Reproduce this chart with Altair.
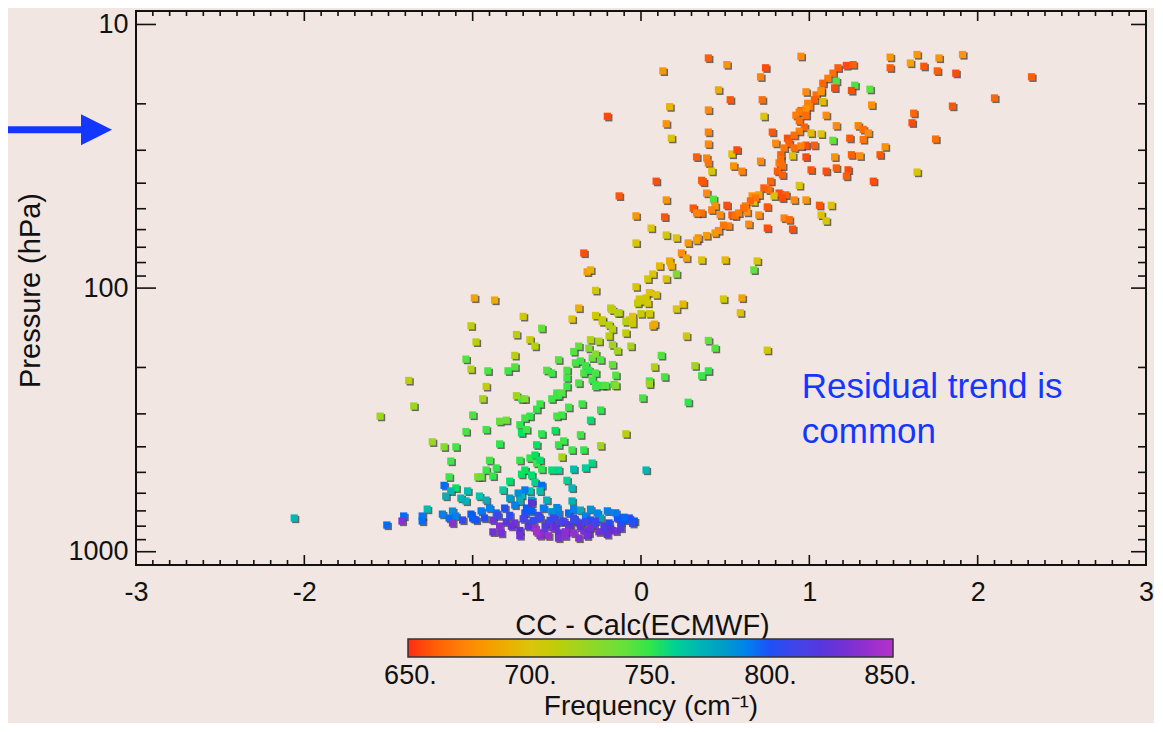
import altair as alt
import pandas as pd

# ---- data: (residual CC - Calc, pressure hPa, frequency cm-1)
TOP = [
    (0.40, 13.4, 660), (0.51, 14.2, 680), (0.74, 14.6, 655), (0.95, 13.2, 675), (0.13, 15.0, 680),
    (0.71, 15.8, 672), (0.46, 17.7, 688), (0.53, 19.3, 658), (0.72, 19.3, 665), (0.17, 20.5, 692),
    (0.40, 21.1, 675), (-0.20, 22.3, 655), (0.73, 22.3, 700), (0.15, 23.8, 678), (0.40, 25.6, 672),
    (0.18, 27.0, 698), (0.40, 28.4, 675), (0.78, 25.6, 658), (0.87, 27.0, 656), (0.80, 28.2, 675),
    (1.17, 14.6, 660), (1.22, 14.3, 655), (1.26, 14.2, 660), (1.14, 15.3, 665), (1.11, 16.0, 670),
    (1.16, 16.4, 745), (1.08, 16.7, 662), (1.15, 17.4, 655), (1.07, 17.8, 672), (1.04, 18.5, 665),
    (1.03, 19.3, 660), (1.00, 20.5, 668), (0.95, 21.2, 662), (0.92, 22.1, 670), (0.94, 23.2, 665),
    (0.97, 24.5, 660), (0.94, 25.4, 672), (0.91, 26.3, 665), (0.88, 28.2, 660), (0.85, 29.4, 668),
    (0.83, 31.2, 662), (0.82, 33.5, 670), (0.83, 32.5, 665), (0.81, 36.0, 660),
    (1.27, 17.0, 745), (1.36, 17.6, 742), (1.25, 17.8, 655), (0.98, 18.0, 675), (1.07, 18.0, 678),
    (1.08, 19.6, 695), (0.99, 19.9, 672), (0.98, 20.9, 678), (0.94, 21.5, 670), (0.98, 22.1, 665),
    (1.10, 22.1, 676), (1.37, 20.2, 678), (1.16, 24.2, 675), (1.01, 25.8, 695), (1.07, 26.0, 700),
    (1.29, 24.2, 672), (1.32, 25.0, 665), (1.35, 25.8, 675), (1.32, 27.3, 668), (1.14, 27.5, 740),
    (1.24, 27.0, 658), (0.98, 28.7, 656), (1.03, 28.7, 660), (0.91, 29.4, 665), (0.95, 28.9, 672),
    (1.45, 29.1, 678),
    (1.48, 13.3, 678), (1.64, 13.0, 680), (1.60, 14.0, 685), (1.68, 14.4, 658), (1.77, 13.4, 678),
    (1.76, 15.0, 660), (1.87, 15.3, 655), (1.91, 13.0, 680), (1.48, 14.6, 660), (2.32, 15.8, 660),
    (2.10, 19.0, 662), (1.62, 21.7, 662), (1.61, 23.6, 655), (1.85, 20.4, 658), (1.75, 27.2, 665),
]

UPPER = [
    (1.42, 31.2, 658), (1.25, 31.2, 660), (1.30, 31.5, 676), (1.15, 31.8, 678), (0.98, 31.8, 655),
    (0.90, 31.5, 698), (1.64, 36.3, 702), (1.38, 39.3, 656), (0.33, 31.8, 660), (0.39, 32.1, 672),
    (0.40, 33.5, 668), (0.54, 31.0, 698), (0.57, 29.9, 655), (0.71, 33.0, 675), (0.55, 34.4, 678),
    (0.60, 36.0, 672), (0.42, 36.0, 700), (0.09, 39.3, 656), (0.36, 39.0, 660), (0.37, 39.6, 658),
    (-0.13, 44.7, 658), (0.39, 43.6, 675), (0.15, 46.3, 678), (0.43, 46.0, 745), (0.31, 49.7, 658),
    (0.36, 51.9, 665), (0.33, 51.9, 672), (0.44, 48.8, 678), (0.42, 50.5, 672), (0.51, 48.5, 656),
    (0.47, 52.7, 676), (-0.03, 53.2, 680), (0.14, 53.7, 658), (0.06, 59.2, 700), (0.15, 62.9, 705),
    (0.21, 64.5, 700), (-0.03, 67.4, 702), (1.01, 35.6, 658), (1.10, 36.0, 656), (1.16, 35.0, 660),
    (1.23, 35.6, 655), (1.22, 37.6, 660), (0.94, 40.8, 700), (0.82, 43.6, 656), (0.86, 44.3, 660),
    (0.84, 45.5, 655), (0.91, 46.3, 675), (0.98, 46.3, 680), (1.06, 48.5, 658), (1.13, 48.5, 700),
    (1.07, 52.8, 698), (1.10, 55.6, 702), (0.70, 52.8, 676), (0.75, 49.2, 658), (0.64, 57.2, 675),
    (0.75, 59.2, 656), (0.85, 54.2, 672), (0.88, 55.0, 665), (0.90, 59.7, 656), (0.54, 52.8, 658),
    (0.56, 53.2, 665), (0.58, 51.9, 670), (0.63, 51.5, 676), (0.67, 47.1, 700), (0.66, 44.7, 678),
    (0.70, 44.3, 682), (0.79, 44.7, 698), (0.77, 39.3, 662), (0.76, 42.4, 665), (0.73, 41.7, 660),
    (0.68, 45.5, 668), (0.65, 46.7, 662), (0.62, 48.8, 670), (0.61, 49.7, 665), (0.52, 58.1, 672),
    (0.49, 57.7, 668), (0.46, 60.5, 675), (0.44, 61.8, 680), (0.39, 63.2, 682), (0.34, 64.5, 676),
    (0.33, 65.8, 685), (0.84, 37.2, 660), (0.84, 34.4, 665),
]

MID = [
    (-0.34, 73.6, 656), (-0.32, 86.8, 682), (-0.30, 85.3, 690), (0.36, 78.2, 700), (0.50, 78.2, 695),
    (0.69, 78.9, 702), (0.67, 85.3, 740), (0.15, 92.3, 700), (0.21, 88.4, 730), (0.28, 67.4, 682),
    (0.24, 73.6, 676), (0.27, 76.9, 685), (0.17, 78.9, 690), (0.11, 82.4, 695), (0.18, 82.4, 688),
    (0.07, 88.4, 700), (0.04, 92.3, 705), (0.05, 104, 700), (0.03, 109, 705), (0.00, 112, 708),
    (0.04, 114, 703), (-0.02, 114, 710), (-0.01, 110, 705), (0.09, 106, 700), (-0.03, 98.8, 702),
    (-0.27, 102, 705), (0.49, 110, 705), (0.60, 109, 685), (0.59, 124, 698), (0.21, 120, 700),
    (0.25, 115, 695), (0.05, 125, 705), (0.00, 125, 708), (0.07, 139, 685), (0.27, 152, 705),
    (0.40, 158, 740), (0.44, 169, 744), (0.75, 172, 705), (0.12, 180, 744), (0.08, 199, 715),
    (0.14, 217, 746), (0.32, 197, 720), (0.36, 215, 748), (0.40, 206, 750), (0.05, 225, 746),
    (-0.99, 109, 685), (-0.87, 111, 688), (-0.37, 119, 690), (-0.41, 131, 700), (-0.70, 128, 705),
    (-1.01, 139, 710), (-0.59, 142, 740), (-0.74, 150, 712), (-0.98, 160, 712), (-0.66, 157, 708),
    (-0.63, 166, 715), (-0.75, 180, 712), (-1.04, 186, 744), (-1.01, 203, 715), (-0.91, 206, 746),
    (-0.79, 206, 748), (-0.75, 199, 744), (-1.38, 224, 712),
    (-0.27, 127, 705), (-0.23, 132, 710), (-0.17, 121, 700), (-0.13, 124, 708), (-0.07, 132, 705),
    (-0.05, 128, 700), (-0.18, 119, 712), (-0.14, 124, 715), (-0.23, 134, 708), (-0.19, 138, 715),
    (-0.09, 134, 712), (-0.05, 136, 705), (0.08, 137, 688), (-0.17, 143, 712), (-0.09, 148, 710),
    (-0.30, 157, 715), (-0.25, 159, 718), (-0.19, 152, 712), (-0.17, 164, 720), (-0.37, 166, 740),
    (-0.40, 174, 744), (-0.31, 169, 730), (-0.14, 173, 720), (-0.06, 166, 718), (-0.29, 184, 740),
    (-0.27, 178, 730), (-0.24, 187, 744), (-0.49, 187, 744), (-0.39, 192, 746), (-0.36, 189, 748),
    (-0.33, 197, 748), (-0.34, 210, 746), (-0.31, 205, 750), (-0.29, 223, 748), (-0.27, 232, 750),
    (-0.23, 234, 748), (-0.17, 195, 740), (-0.15, 214, 744), (-0.16, 232, 748), (-0.44, 205, 746),
    (-0.44, 219, 748), (-0.56, 205, 744), (-0.53, 210, 748), (-0.27, 210, 746),
]

LOW = [
    (-0.37, 229, 746), (-0.27, 236, 748), (-0.21, 234, 744), (-0.15, 234, 730), (-0.44, 236, 748),
    (-0.50, 250, 748), (-0.49, 256, 750), (-0.53, 263, 748), (0.01, 261, 746), (0.28, 271, 750),
    (0.05, 231, 722), (-0.71, 263, 746), (-0.60, 275, 748), (-0.62, 288, 750), (-0.50, 256, 748),
    (-0.47, 250, 744), (-0.43, 283, 748), (-0.35, 275, 748), (-0.24, 290, 750), (-0.50, 306, 746),
    (-0.47, 303, 748), (-0.30, 317, 754), (-0.66, 306, 750), (-0.69, 311, 748), (-0.72, 330, 750),
    (-0.71, 354, 752), (-0.68, 344, 748), (-0.59, 357, 750), (-0.51, 347, 752), (-0.36, 360, 748),
    (-0.09, 357, 712), (-0.49, 393, 750), (-0.46, 380, 748), (-0.24, 396, 720), (-0.62, 393, 752),
    (-0.41, 411, 748), (-0.34, 411, 750), (-0.47, 437, 718), (-0.66, 441, 750), (-0.63, 430, 752),
    (-0.62, 461, 748), (-0.60, 450, 754), (-0.72, 450, 750), (-0.69, 490, 752), (-0.53, 490, 755),
    (-0.49, 490, 760), (-0.40, 486, 768), (-0.33, 481, 762), (-0.29, 461, 758), (0.03, 490, 770),
    (-0.59, 486, 750), (-0.65, 512, 754), (-0.71, 508, 752), (-0.44, 536, 760), (-0.41, 573, 770),
    (-0.63, 545, 758), (-0.66, 588, 765), (-0.59, 560, 795), (-0.60, 588, 768),
    (-0.92, 236, 710), (-0.94, 263, 718), (-1.35, 280, 722), (-1.55, 306, 722), (-1.00, 303, 746),
    (-0.74, 256, 720), (-0.69, 263, 730), (-0.84, 320, 740), (-0.80, 317, 738), (-0.92, 344, 748),
    (-1.04, 350, 746), (-1.24, 383, 722), (-1.17, 400, 730), (-1.10, 400, 746), (-0.84, 390, 750),
    (-1.13, 453, 748), (-0.90, 450, 748), (-0.86, 481, 750), (-0.97, 520, 730), (-0.95, 520, 738),
    (-0.92, 490, 748), (-0.88, 516, 750), (-1.14, 520, 748), (-0.78, 540, 754), (-1.10, 573, 752),
]

BASE = [
    (-0.56, 637, 772), (-0.71, 610, 770), (-0.72, 642, 775), (-0.65, 637, 780), (-0.41, 642, 772),
    (-0.36, 695, 775), (-0.53, 705, 785), (-0.49, 713, 790), (-0.33, 732, 790), (-0.30, 758, 800),
    (-0.24, 745, 778), (-0.14, 745, 800), (-0.09, 758, 798), (-0.21, 827, 802), (-0.15, 834, 830),
    (-1.17, 560, 795), (-1.13, 588, 770), (-1.03, 588, 768), (-1.16, 615, 775), (-1.07, 626, 770),
    (-1.04, 642, 772), (-0.96, 615, 765), (-0.92, 637, 775), (-0.82, 583, 762), (-1.27, 689, 768),
    (-1.18, 720, 790), (-1.14, 745, 795), (-1.12, 701, 785), (-1.10, 732, 790), (-1.06, 758, 805),
    (-1.01, 720, 798), (-0.98, 758, 800), (-1.30, 732, 792), (-1.30, 765, 795), (-1.41, 732, 795),
    (-1.42, 765, 835), (-1.51, 792, 795), (-2.06, 745, 770), (-1.12, 778, 835), (-0.88, 758, 830),
    (-0.84, 799, 835), (-0.88, 841, 830),
    (-0.81, 683, 800), (-0.78, 728, 805), (-0.75, 778, 830), (-0.72, 831, 825), (-0.69, 713, 800),
    (-0.66, 778, 815), (-0.63, 813, 840), (-0.60, 745, 810), (-0.58, 849, 830), (-0.55, 778, 825),
    (-0.52, 813, 835), (-0.49, 849, 828), (-0.46, 765, 815), (-0.43, 813, 830), (-0.40, 849, 840),
    (-0.37, 778, 820), (-0.34, 831, 832), (-0.31, 849, 825), (-0.28, 792, 815), (-0.25, 840, 830),
    (-0.86, 713, 795), (-0.90, 683, 790), (-0.93, 745, 800), (-0.78, 626, 780), (-0.75, 665, 790),
    (-0.68, 683, 798), (-0.58, 683, 792), (-0.61, 728, 808), (-0.52, 745, 812), (-0.43, 713, 795),
    (-0.40, 745, 805), (-0.26, 713, 788), (-0.19, 778, 800), (-0.12, 813, 820), (-0.07, 745, 800),
    (-0.04, 765, 798), (-0.37, 887, 835), (-0.49, 887, 832), (-0.60, 868, 838), (-0.72, 868, 830),
    (-0.69, 583, 792), (-0.65, 653, 825), (-0.73, 599, 785),
]

BASE_FILL = [
    (-0.85, 730, 810), (-0.80, 770, 820), (-0.77, 800, 828), (-0.70, 750, 812), (-0.67, 800, 822),
    (-0.64, 760, 805), (-0.62, 840, 845), (-0.57, 800, 818), (-0.54, 760, 808), (-0.51, 800, 826),
    (-0.48, 770, 812), (-0.45, 840, 838), (-0.42, 790, 822), (-0.39, 760, 806), (-0.36, 805, 826),
    (-0.33, 770, 812), (-0.30, 810, 830), (-0.27, 765, 808), (-0.22, 800, 818), (-0.18, 820, 826),
    (-0.95, 700, 792), (-1.00, 745, 798), (-0.83, 850, 832), (-0.55, 870, 842), (-0.45, 870, 836),
    (-0.32, 870, 830), (-0.20, 860, 828), (-0.12, 770, 800), (-0.05, 780, 805), (-0.65, 700, 798),
    (-0.50, 680, 788), (-0.40, 690, 790), (-0.30, 690, 785), (-0.20, 700, 790), (-0.15, 712, 792),
    (-0.10, 740, 796),
]

X_LABELS = [-3, -2, -1, 0, 1, 2, 3]
Y_LABELS = [10, 100, 1000]
Y_MINOR = [20, 30, 40, 50, 60, 70, 80, 90, 200, 300, 400, 500, 600, 700, 800, 900]
CBAR_LABELS = [650, 700, 750, 800, 850]
CBAR_STOPS = [649, 675, 700, 725, 750, 775, 800, 825, 851]
CBAR_COLORS = ["#ff2a12", "#ff8a10", "#dcc40c", "#8fd82a", "#2ee64a",
               "#14a8b4", "#1e50f5", "#5a32d8", "#b432c8"]
NOTE_LINES = ["Residual trend is", "common"]
NOTE_AT = {"x": 0.955, "p": 261}
ARROW_P = 25.1

BG = "#f1e6e2"
INK = "#111111"
BLUE = "#1437ff"
FONT = "Liberation Sans"
W, H = 1010, 554

df = pd.DataFrame(TOP + UPPER + MID + LOW + BASE + BASE_FILL, columns=["x", "p", "f"])

xscale = alt.Scale(domain=[-3, 3], nice=False, zero=False)
yscale = alt.Scale(type="log", domain=[8.89, 1123], reverse=True, nice=False)
cscale = alt.Scale(domain=CBAR_STOPS, range=CBAR_COLORS)

xaxis = alt.Axis(values=X_LABELS, labelExpr="'' + datum.value", ticks=False, domain=False, grid=False,
                 labelFont=FONT, labelFontSize=27, labelColor=INK, labelPadding=14, labelFlush=False,
                 title="CC - Calc(ECMWF)", titleFont=FONT, titleFontSize=29, titleFontWeight="normal",
                 titleColor=INK, titleX=506, titleY=60, titleBaseline="middle")
yaxis = alt.Axis(values=Y_LABELS, format="d", ticks=False, domain=False, grid=False,
                 labelFont=FONT, labelFontSize=27, labelColor=INK, labelPadding=8, labelFlush=False,
                 title="Pressure (hPa)", titleFont=FONT, titleFontSize=29, titleFontWeight="normal",
                 titleColor=INK, titleX=-106, titleY=279, titleBaseline="middle")
legend = alt.Legend(orient="none", legendX=272, legendY=628, direction="horizontal",
                    gradientLength=485, gradientThickness=18, gradientStrokeColor="#333333",
                    gradientStrokeWidth=1.5, values=CBAR_LABELS, format="d",
                    labelExpr="datum.label + '.'", labelAlign="center", labelFont=FONT,
                    labelFontSize=27, labelColor=INK, labelOffset=6, labelOverlap=False,
                    labelLimit=200,
                    title="Frequency (cm\u207b\u00b9)", titleOrient="bottom", titleAnchor="middle",
                    titleFont=FONT, titleFontSize=28, titleFontWeight="normal", titleColor=INK,
                    titlePadding=4, titleLimit=500, padding=0)

X = alt.X("x:Q", scale=xscale, axis=xaxis)
Y = alt.Y("p:Q", scale=yscale, axis=yaxis)

shadow = alt.Chart(df).mark_square(size=52, color="#3c3c3c", opacity=0.75, xOffset=1.5, yOffset=1.5).encode(
    x=X, y=Y)
points = alt.Chart(df).mark_square(size=52, opacity=1).encode(
    x=X, y=Y, color=alt.Color("f:Q", scale=cscale, legend=legend))

xmin_vals = [round(-3 + 0.1 * i, 1) for i in range(61) if i % 10]
xt_major = pd.DataFrame({"x": X_LABELS})
xt_minor = pd.DataFrame({"x": xmin_vals})
yt_major = pd.DataFrame({"p": Y_LABELS})
yt_minor = pd.DataFrame({"p": Y_MINOR})


def xticks(data, length, top):
    y0, y1 = (0, length) if top else (H, H - length)
    return alt.Chart(data).mark_rule(color=INK, strokeWidth=1.6).encode(
        x=X, y=alt.value(y0), y2=alt.value(y1))


def yticks(data, length, right):
    x0, x1 = (W, W - length) if right else (0, length)
    return alt.Chart(data).mark_rule(color=INK, strokeWidth=1.6).encode(
        y=Y, x=alt.value(x0), x2=alt.value(x1))


ticks = [
    xticks(xt_major, 10, False), xticks(xt_minor, 5, False),
    xticks(xt_major, 10, True), xticks(xt_minor, 5, True),
    yticks(yt_major, 20, False), yticks(yt_minor, 10, False),
    yticks(yt_major, 15, True), yticks(yt_minor, 8, True),
]

note_df = pd.DataFrame([NOTE_AT])
note = alt.Chart(note_df).mark_text(text=NOTE_LINES, align="left", baseline="alphabetic", lineHeight=45,
                                    font=FONT, fontSize=35, color=BLUE).encode(x=X, y=Y)

arrow_df = pd.DataFrame({"p": [ARROW_P]})
arrow_line = alt.Chart(arrow_df).mark_rule(color=BLUE, strokeWidth=7).encode(
    y=Y, x=alt.value(-128), x2=alt.value(-50))
arrow_head = alt.Chart(arrow_df).mark_point(shape="M -1 -1 L 1 0 L -1 1 Z", filled=True, size=961,
                                            color=BLUE, opacity=1).encode(
    y=Y, x=alt.value(-39.5))

chart = alt.layer(shadow, points, *ticks, note, arrow_line, arrow_head).properties(
    width=W, height=H,
    padding={"left": 128, "top": 3, "right": 8, "bottom": 158},
    autosize=alt.AutoSizeParams(type="none"),
).configure(background=BG).configure_view(stroke=INK, strokeWidth=2)

chart.save("out.html", embed_options={"renderer": "svg", "actions": False})
